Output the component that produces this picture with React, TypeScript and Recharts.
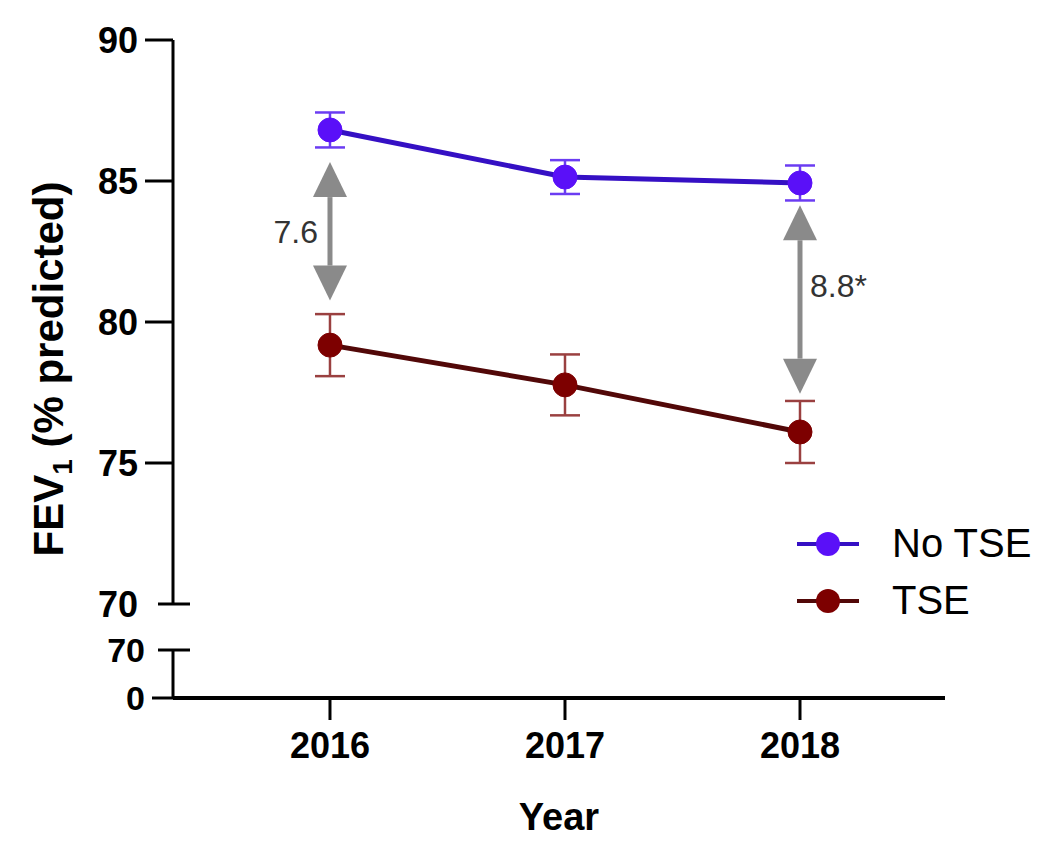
import { LineChart, Line, XAxis, YAxis, ErrorBar, ReferenceLine, Legend } from 'recharts';

const years = [2016, 2017, 2018];
const noTse = [86.81, 85.14, 84.93];
const noTseErr = [0.62, 0.6, 0.62];
const tse = [79.18, 77.77, 76.1];
const tseErr = [1.1, 1.08, 1.1];
const upperTicks = [70, 75, 80, 85, 90];
const lowerTicks = [0, 70];
const gaps = [
  { year: 2016, top: 85.67, bottom: 80.76, label: '7.6', side: 'left' },
  { year: 2018, top: 84.14, bottom: 77.46, label: '8.8*', side: 'right' },
];

const data = years.map((year, i) => ({
  year,
  noTse: noTse[i],
  noTseErr: noTseErr[i],
  tse: tse[i],
  tseErr: tseErr[i],
}));

const FONT = '"Liberation Sans", Arial, sans-serif';
const X_DOMAIN = [2015.332, 2018.617];
const GRAY = '#8a8a8a';

const series = [
  { key: 'noTse', err: 'noTseErr', name: 'No TSE', line: '#3510c4', fill: '#5a10f8', errColor: '#6b3cf2' },
  { key: 'tse', err: 'tseErr', name: 'TSE', line: '#520808', fill: '#7d0000', errColor: '#9a4040' },
];

const UpperTick = (props: any) => {
  const { x, y, payload } = props;
  const axisX = x + 7 + 28;
  return (
    <g>
      {payload.value === 70 ? (
        <line x1={axisX - 15} x2={axisX + 17} y1={y} y2={y} stroke="#000" strokeWidth={3} />
      ) : (
        <line x1={axisX - 28} x2={axisX} y1={y} y2={y} stroke="#000" strokeWidth={3} />
      )}
      <text x={x} y={y} dy="0.36em" textAnchor="end" fontSize={36} fontWeight="bold" fontFamily={FONT} fill="#000">
        {payload.value}
      </text>
    </g>
  );
};

const LowerTick = (props: any) => {
  const { x, y, payload } = props;
  const axisX = x + 7 + 21;
  return (
    <g>
      {payload.value === 70 ? (
        <line x1={axisX - 15} x2={axisX + 17} y1={y} y2={y} stroke="#000" strokeWidth={3} />
      ) : (
        <line x1={axisX - 21} x2={axisX} y1={y} y2={y} stroke="#000" strokeWidth={3} />
      )}
      <text x={x} y={y} dy="0.36em" textAnchor="end" fontSize={34} fontWeight="bold" fontFamily={FONT} fill="#000">
        {payload.value}
      </text>
    </g>
  );
};

const gapShape = (gap: (typeof gaps)[number]) => (props: any) => {
  const { x1, y1, y2 } = props;
  const x = x1;
  const top = Math.min(y1, y2);
  const bottom = Math.max(y1, y2);
  const hl = 35;
  const hw = 17;
  const mid = (top + bottom) / 2;
  return (
    <g>
      <line x1={x} x2={x} y1={top + hl} y2={bottom - hl} stroke={GRAY} strokeWidth={5} />
      <polygon points={`${x},${top} ${x - hw},${top + hl} ${x + hw},${top + hl}`} fill={GRAY} />
      <polygon points={`${x},${bottom} ${x - hw},${bottom - hl} ${x + hw},${bottom - hl}`} fill={GRAY} />
      <text
        x={gap.side === 'left' ? x - 12 : x + 10}
        y={gap.side === 'left' ? mid : mid - 14}
        dy="0.36em"
        textAnchor={gap.side === 'left' ? 'end' : 'start'}
        fontSize={32}
        fontFamily={FONT}
        fill="#333"
      >
        {gap.label}
      </text>
    </g>
  );
};

const LegendBox = () => (
  <div style={{ fontFamily: FONT, fontSize: 40, color: '#000' }}>
    {series.map((s) => (
      <div key={s.key} style={{ display: 'flex', alignItems: 'center', height: 57 }}>
        <svg width={62} height={30}>
          <line x1={0} x2={62} y1={15} y2={15} stroke={s.line} strokeWidth={4} />
          <circle cx={31} cy={15} r={12} fill={s.fill} />
        </svg>
        <span style={{ marginLeft: 33 }}>{s.name}</span>
      </div>
    ))}
  </div>
);

const YLabel = () => (
  <text
    transform="translate(63 369) rotate(-90)"
    textAnchor="middle"
    fontSize={42}
    fontWeight="bold"
    fontFamily={FONT}
    fill="#000"
  >
    FEV
    <tspan fontSize={28} dy={9}>1</tspan>
    <tspan dy={-9}> (% predicted)</tspan>
  </text>
);

export default function App() {
  return (
    <div style={{ position: 'absolute', left: 0, top: 0, width: 1050, height: 850, background: '#fff' }}>
      <div style={{ position: 'absolute', left: 0, top: 0 }}>
        <LineChart width={1050} height={660} data={data} margin={{ top: 40, right: 105, bottom: 56, left: 0 }}>
          <XAxis type="number" dataKey="year" domain={X_DOMAIN} allowDataOverflow hide />
          <YAxis
            type="number"
            domain={[70, 90]}
            ticks={upperTicks}
            allowDataOverflow
            width={173}
            tickSize={28}
            tickMargin={7}
            tickLine={false}
            tick={UpperTick}
            axisLine={{ stroke: '#000', strokeWidth: 3 }}
            label={{ content: () => <YLabel /> }}
          />
          {gaps.map((g) => (
            <ReferenceLine
              key={g.year}
              segment={[
                { x: g.year, y: g.top },
                { x: g.year, y: g.bottom },
              ]}
              shape={gapShape(g)}
            />
          ))}
          {series.map((s) => (
            <Line
              key={s.key}
              dataKey={s.key}
              name={s.name}
              type="linear"
              stroke={s.line}
              strokeWidth={5}
              dot={{ r: 12, fill: s.fill, stroke: s.fill, strokeWidth: 1 }}
              activeDot={false}
              isAnimationActive={false}
            >
              <ErrorBar dataKey={s.err} direction="y" width={15} strokeWidth={2.5} stroke={s.errColor} />
            </Line>
          ))}
          <Legend
            layout="horizontal"
            verticalAlign="middle"
            align="center"
            content={() => <LegendBox />}
            wrapperStyle={{ left: 797, top: 515, width: 260 }}
          />
        </LineChart>
      </div>
      <div style={{ position: 'absolute', left: 0, top: 630 }}>
        <LineChart width={1050} height={220} data={data} margin={{ top: 20, right: 105, bottom: 12, left: 0 }}>
          <XAxis
            type="number"
            dataKey="year"
            domain={X_DOMAIN}
            allowDataOverflow
            ticks={years}
            height={140}
            tickSize={22}
            tickMargin={12}
            axisLine={{ stroke: '#000', strokeWidth: 4 }}
            tickLine={{ stroke: '#000', strokeWidth: 3 }}
            tick={{ fontSize: 36, fontWeight: 'bold', fill: '#000', fontFamily: FONT }}
            label={{ value: 'Year', position: 'insideBottom', offset: 8, fontSize: 38, fontWeight: 'bold', fill: '#000', fontFamily: FONT }}
          />
          <YAxis
            type="number"
            domain={[0, 70]}
            ticks={lowerTicks}
            allowDataOverflow
            width={173}
            tickSize={21}
            tickMargin={7}
            tickLine={false}
            tick={LowerTick}
            axisLine={{ stroke: '#000', strokeWidth: 3 }}
          />
        </LineChart>
      </div>
    </div>
  );
}
